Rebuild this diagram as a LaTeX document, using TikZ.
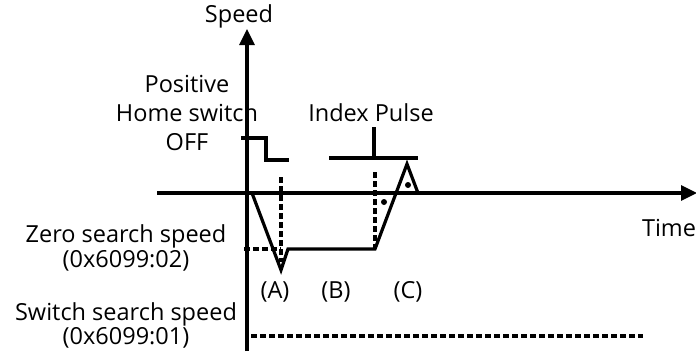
\documentclass[tikz,border=0pt]{standalone}
\usepackage{fontspec}
\setmainfont{Open Sans}
\usetikzlibrary{arrows.meta}
\begin{document}
\begin{tikzpicture}[x=1pt,y=-1pt,
  lbl/.style={inner sep=0pt,anchor=base,font=\fontsize{23.5}{28}\selectfont},
  axis/.style={line width=3.2pt,-{Triangle[length=16pt,width=15pt]}},
  sig/.style={line width=3.2pt,line join=miter},
  dsh/.style={line width=3.2pt,dash pattern=on 5.5pt off 3.5pt}]
\useasboundingbox (0,0) rectangle (696,356);
% axes
\coordinate (yb) at (247,351);
\coordinate (yt) at (247,29);
\coordinate (xl) at (157,193);
\coordinate (xr) at (697,193);
\draw[axis] (yb) -- (yt);
\draw[axis] (xl) -- (xr);
% labels
\node[lbl] (speed) at (239,23) {Speed};
\node[lbl] (time) at (669,236) {Time};
\node[lbl] (home1) at (187,92) {Positive};
\node[lbl] (home2) at (187,121) {Home switch};
\node[lbl] (home3) at (187,150) {OFF};
\node[lbl] (index) at (371,121) {Index Pulse};
\node[lbl] (zero1) at (126,242) {Zero search speed};
\node[lbl] (zero2) at (126,267) {(0x6099:02)};
\node[lbl] (switch1) at (126,320) {Switch search speed};
\node[lbl] (switch2) at (126,344) {(0x6099:01)};
\node[lbl] (A) at (275,298) {(A)};
\node[lbl] (B) at (336,298) {(B)};
\node[lbl] (C) at (408,298) {(C)};
% home switch signal
\draw[sig] (241,138) -- (266,138) -- (266,160) -- (289,160);
% index pulse
\draw[sig] (329,158) -- (418,158);
\draw[sig] (374,158) -- (374,127);
% dashed
\draw[dsh] (281,177) -- (281,262);
\draw[dsh] (375,172) -- (375,249);
\draw[dsh] (244,249) -- (281,249);
\draw[dsh] (251,336) -- (643,336);
% trajectory
\draw[sig] (252,193) -- (281,270) -- (288,249) -- (375,249) -- (407,164) -- (418,193);
% dots
\fill (384,202) circle (3pt);
\fill (408,185) circle (3pt);
\end{tikzpicture}
\end{document}
